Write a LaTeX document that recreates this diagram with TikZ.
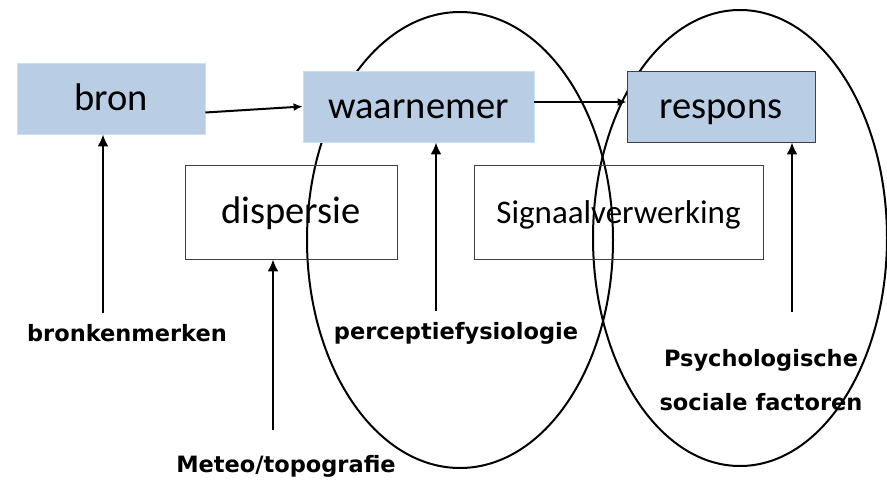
\documentclass[tikz,border=0pt]{standalone}
\usepackage{fontspec}
\setmainfont{Carlito}
\newfontfamily\labelfont{DejaVu Sans}
\usetikzlibrary{arrows.meta}
\definecolor{boxblue}{HTML}{B9CDE5}
\definecolor{boxrim}{HTML}{C9E2F0}
\definecolor{darkrim}{HTML}{404040}
\tikzset{
  bluebox/.style={fill=boxblue, draw=boxrim, line width=0.8pt, inner sep=0pt,
    minimum height=71pt, text height=25pt, text depth=0pt,
    font=\fontsize{38.5}{44}\selectfont},
  plainbox/.style={draw=darkrim, line width=0.8pt, inner sep=0pt,
    minimum height=94pt, text height=24pt, text depth=0pt},
  factor/.style={font=\labelfont\bfseries\fontsize{22.5}{44}\selectfont, inner sep=0pt},
  feed/.style={-{Latex[length=12pt,width=11pt]}, line width=2.5pt},
  flow/.style={-{Latex[length=9pt,width=8pt]}, line width=2pt},
  loop/.style={line width=2pt}
}
\begin{document}
\begin{tikzpicture}[x=1pt,y=-1pt]
  \useasboundingbox (0,0) rectangle (887,481);
  % ellipses behind the boxes
  \draw[loop] (460,240) ellipse (153 and 228);
  \draw[loop] (740,238) ellipse (147 and 228);
  % top row
  \node[bluebox, minimum width=188pt] (bron) at (111,98.5) {bron};
  \node[bluebox, minimum width=231pt] (waarnemer) at (418.5,106.5) {waarnemer};
  \node[bluebox, draw=darkrim, minimum width=188pt] (respons) at (721,106.5) {respons};
  % second row
  \node[plainbox, minimum width=212pt, font=\fontsize{38.5}{44}\selectfont] (dispersie) at (291,212) {dispersie};
  \node[plainbox, minimum width=289pt, font=\fontsize{33}{38}\selectfont] (signaal) at (618.5,212) {Signaalverwerking};
  % factors
  \node[factor] (kenmerken) at (127,333) {bronkenmerken};
  \node[factor] (perceptie) at (456,333) {perceptiefysiologie};
  \node[factor] (meteo) at (286,466) {Meteo/topografie};
  \node[factor, align=center] (psycho) at (761,380) {Psychologische\\sociale factoren};
  \coordinate (kStart) at (103,313);
  \coordinate (mStart) at (273,430);
  \coordinate (pStart) at (436,311);
  \coordinate (rStart) at (792,312);
  % arrows
  \draw[flow] ([yshift=-14pt]bron.east) -- (waarnemer.west);
  \draw[flow] ([yshift=4.5pt]waarnemer.east) -- ([yshift=4.5pt]respons.west);
  \draw[feed] (kStart) -- (kStart |- bron.south);
  \draw[feed] (mStart) -- (mStart |- dispersie.south);
  \draw[feed] (pStart) -- (pStart |- waarnemer.south);
  \draw[feed] (rStart) -- (rStart |- respons.south);
\end{tikzpicture}
\end{document}
